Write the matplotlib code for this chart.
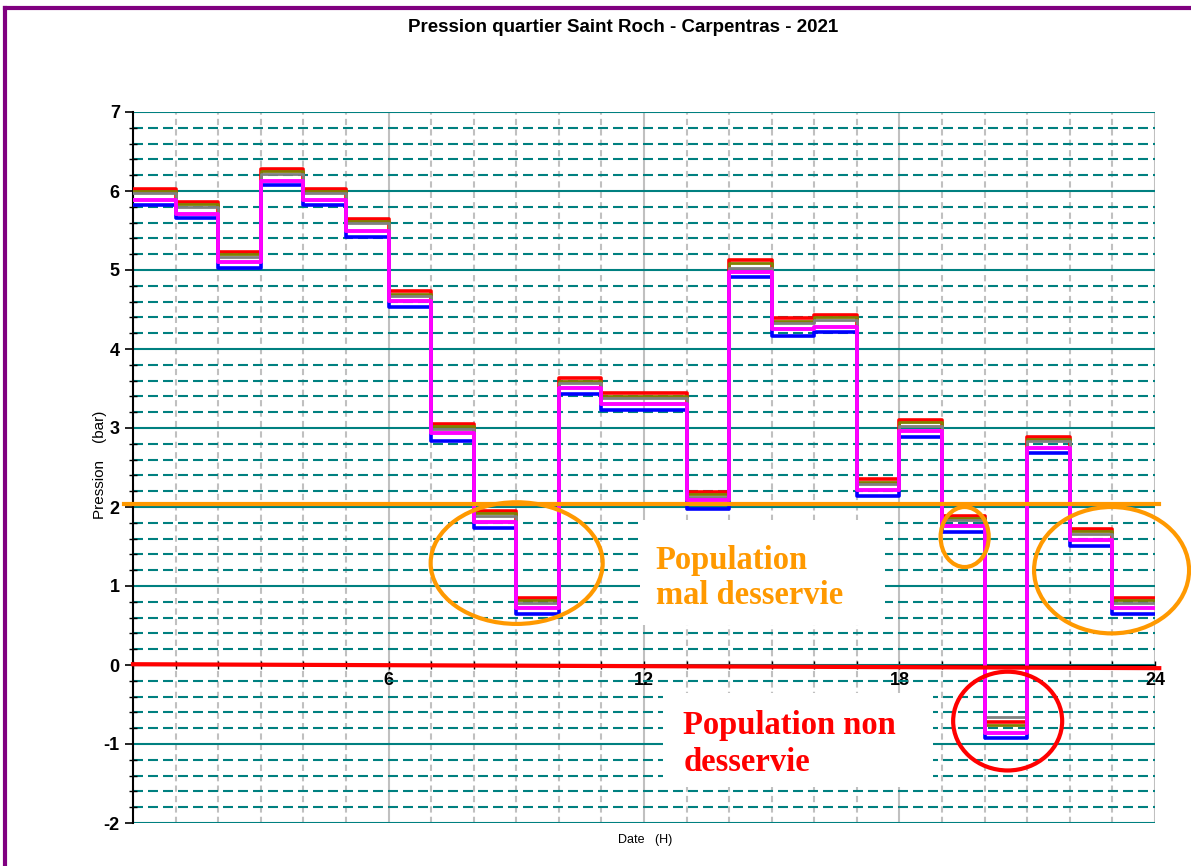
import matplotlib
matplotlib.use("Agg")
import matplotlib.pyplot as plt
from matplotlib.patches import Ellipse, Rectangle
from matplotlib.ticker import MultipleLocator

plt.rcParams['font.family'] = ['Liberation Sans', 'DejaVu Sans']
plt.rcParams['axes.unicode_minus'] = False

# heures (0..23) et pressions (bar)
heures = list(range(24))
p_rouge = [6.03, 5.86, 5.23, 6.28, 6.03, 5.65, 4.73, 3.05, 1.95, 0.85, 3.63, 3.44,
           3.44, 2.19, 5.13, 4.39, 4.43, 2.35, 3.10, 1.89, -0.72, 2.89, 1.72, 0.85]
p_olive = [6.00, 5.83, 5.20, 6.25, 6.00, 5.62, 4.70, 3.02, 1.92, 0.82, 3.60, 3.41,
           3.41, 2.16, 5.09, 4.36, 4.40, 2.32, 3.07, 1.86, -0.76, 2.86, 1.69, 0.82]
p_gris = [5.97, 5.80, 5.17, 6.22, 5.97, 5.59, 4.67, 2.99, 1.89, 0.79, 3.57, 3.38,
          3.38, 2.13, 5.03, 4.33, 4.37, 2.29, 3.03, 1.83, -0.66, 2.83, 1.66, 0.79]
p_magenta = [5.88, 5.71, 5.10, 6.13, 5.88, 5.49, 4.61, 2.94, 1.81, 0.72, 3.51, 3.30,
             3.30, 2.09, 4.97, 4.25, 4.28, 2.22, 2.96, 1.76, -0.86, 2.75, 1.58, 0.72]
p_bleu = [5.82, 5.66, 5.03, 6.08, 5.82, 5.42, 4.53, 2.84, 1.73, 0.65, 3.43, 3.23,
          3.23, 1.97, 4.91, 4.17, 4.21, 2.14, 2.89, 1.68, -0.92, 2.68, 1.51, 0.65]

seuil_mal = 2.04   # ligne orange
seuil_non = 0.0    # ligne rouge

fig = plt.figure(figsize=(11.91, 8.66), dpi=100)
ax = fig.add_axes([133/1191, 43/866, 1022/1191, 711/866])

# cadre violet
fig.add_artist(plt.Line2D([0.0045, 0.0045], [0, 0.9905], color="#800080", lw=3, transform=fig.transFigure))
fig.add_artist(plt.Line2D([0.0045, 1], [0.9905, 0.9905], color="#800080", lw=3, transform=fig.transFigure))

ax.set_xlim(0, 24)
ax.set_ylim(-2, 7)

# grille
ax.yaxis.set_major_locator(MultipleLocator(1))
ax.yaxis.set_minor_locator(MultipleLocator(0.2))
ax.xaxis.set_major_locator(MultipleLocator(6))
ax.xaxis.set_minor_locator(MultipleLocator(1))
ax.grid(which="major", axis="y", color="#008080", lw=1.5, zorder=0)
ax.grid(which="minor", axis="y", color="#008080", lw=1.5, linestyle=(0, (4.8, 2.4)), zorder=0)
ax.grid(which="major", axis="x", color="#c0c0c0", lw=1.5, zorder=0)
ax.grid(which="minor", axis="x", color="#c0c0c0", lw=1.5, linestyle=(0, (3, 2)), zorder=0)
ax.set_axisbelow(True)

for s in ["top", "right"]:
    ax.spines[s].set_visible(False)
ax.spines["bottom"].set_position(("data", 0))
ax.spines["left"].set_linewidth(1.5)
ax.tick_params(axis="y", which="major", direction="out", length=6, width=1.2, labelsize=13)
ax.tick_params(axis="y", which="minor", direction="inout", length=6, width=1)
ax.tick_params(axis="x", which="both", direction="inout", length=6, width=1, labelsize=13, pad=2)
ax.set_xticks([6, 12, 18, 24])
ax.set_xticklabels(["6", "12", "18", "24"], fontweight="bold")
for lab in ax.get_yticklabels():
    lab.set_fontweight("bold")

# zones blanches derriere les textes
ax.add_patch(Rectangle((11.91, 0.51), 5.75, 1.33, facecolor="white", edgecolor="none", zorder=1))
ax.add_patch(Rectangle((12.45, -1.54), 6.34, 1.19, facecolor="white", edgecolor="none", zorder=1))

# courbes en escalier
x_ext = heures + [24]
for vals, col, lw in [(p_rouge, "red", 2.6), (p_olive, "#808000", 2), (p_gris, "gray", 2),
                      (p_bleu, "blue", 2.6), (p_magenta, "magenta", 2.8)]:
    ax.step(x_ext, vals + [vals[-1]], where="post", color=col, lw=lw, zorder=3)

# annotations
ax.plot([-0.2, 24.1], [seuil_mal, seuil_mal], color="#FF9900", lw=3, zorder=4, clip_on=False)
ax.plot([0, 24.1], [seuil_non + 0.01, seuil_non - 0.04], color="red", lw=3, zorder=4, clip_on=False)

orange_ell = [(9.01, 1.29, 4.04, 1.54), (19.53, 1.62, 1.13, 0.76), (22.98, 1.20, 3.64, 1.60)]
for cx, cy, w, h in orange_ell:
    ax.add_patch(Ellipse((cx, cy), w, h, fill=False, edgecolor="#FF9900", lw=3, zorder=5, clip_on=False))
ax.add_patch(Ellipse((20.54, -0.71), 2.56, 1.25, fill=False, edgecolor="red", lw=3, zorder=5, clip_on=False))

ax.text(12.28, 1.10, "Population\nmal desservie", color="#FF9900", fontsize=23.5, fontweight="bold",
        family="Liberation Serif", va="center", ha="left", linespacing=1.2, zorder=6)
ax.text(12.92, -1.0, "Population non\ndesservie", color="red", fontsize=23.5, fontweight="bold",
        family="Liberation Serif", va="center", ha="left", linespacing=1.25, zorder=6)

fig.text(0.523, 0.968, "Pression quartier Saint Roch - Carpentras - 2021", ha="center", va="center",
         fontsize=13.5, fontweight="bold")
fig.text(0.084, 0.463, "Pression    (bar)", rotation=90, ha="center", va="center", fontsize=11)
fig.text(0.542, 0.030, "Date   (H)", ha="center", va="center", fontsize=9)

fig.savefig("out.png", dpi=100)
